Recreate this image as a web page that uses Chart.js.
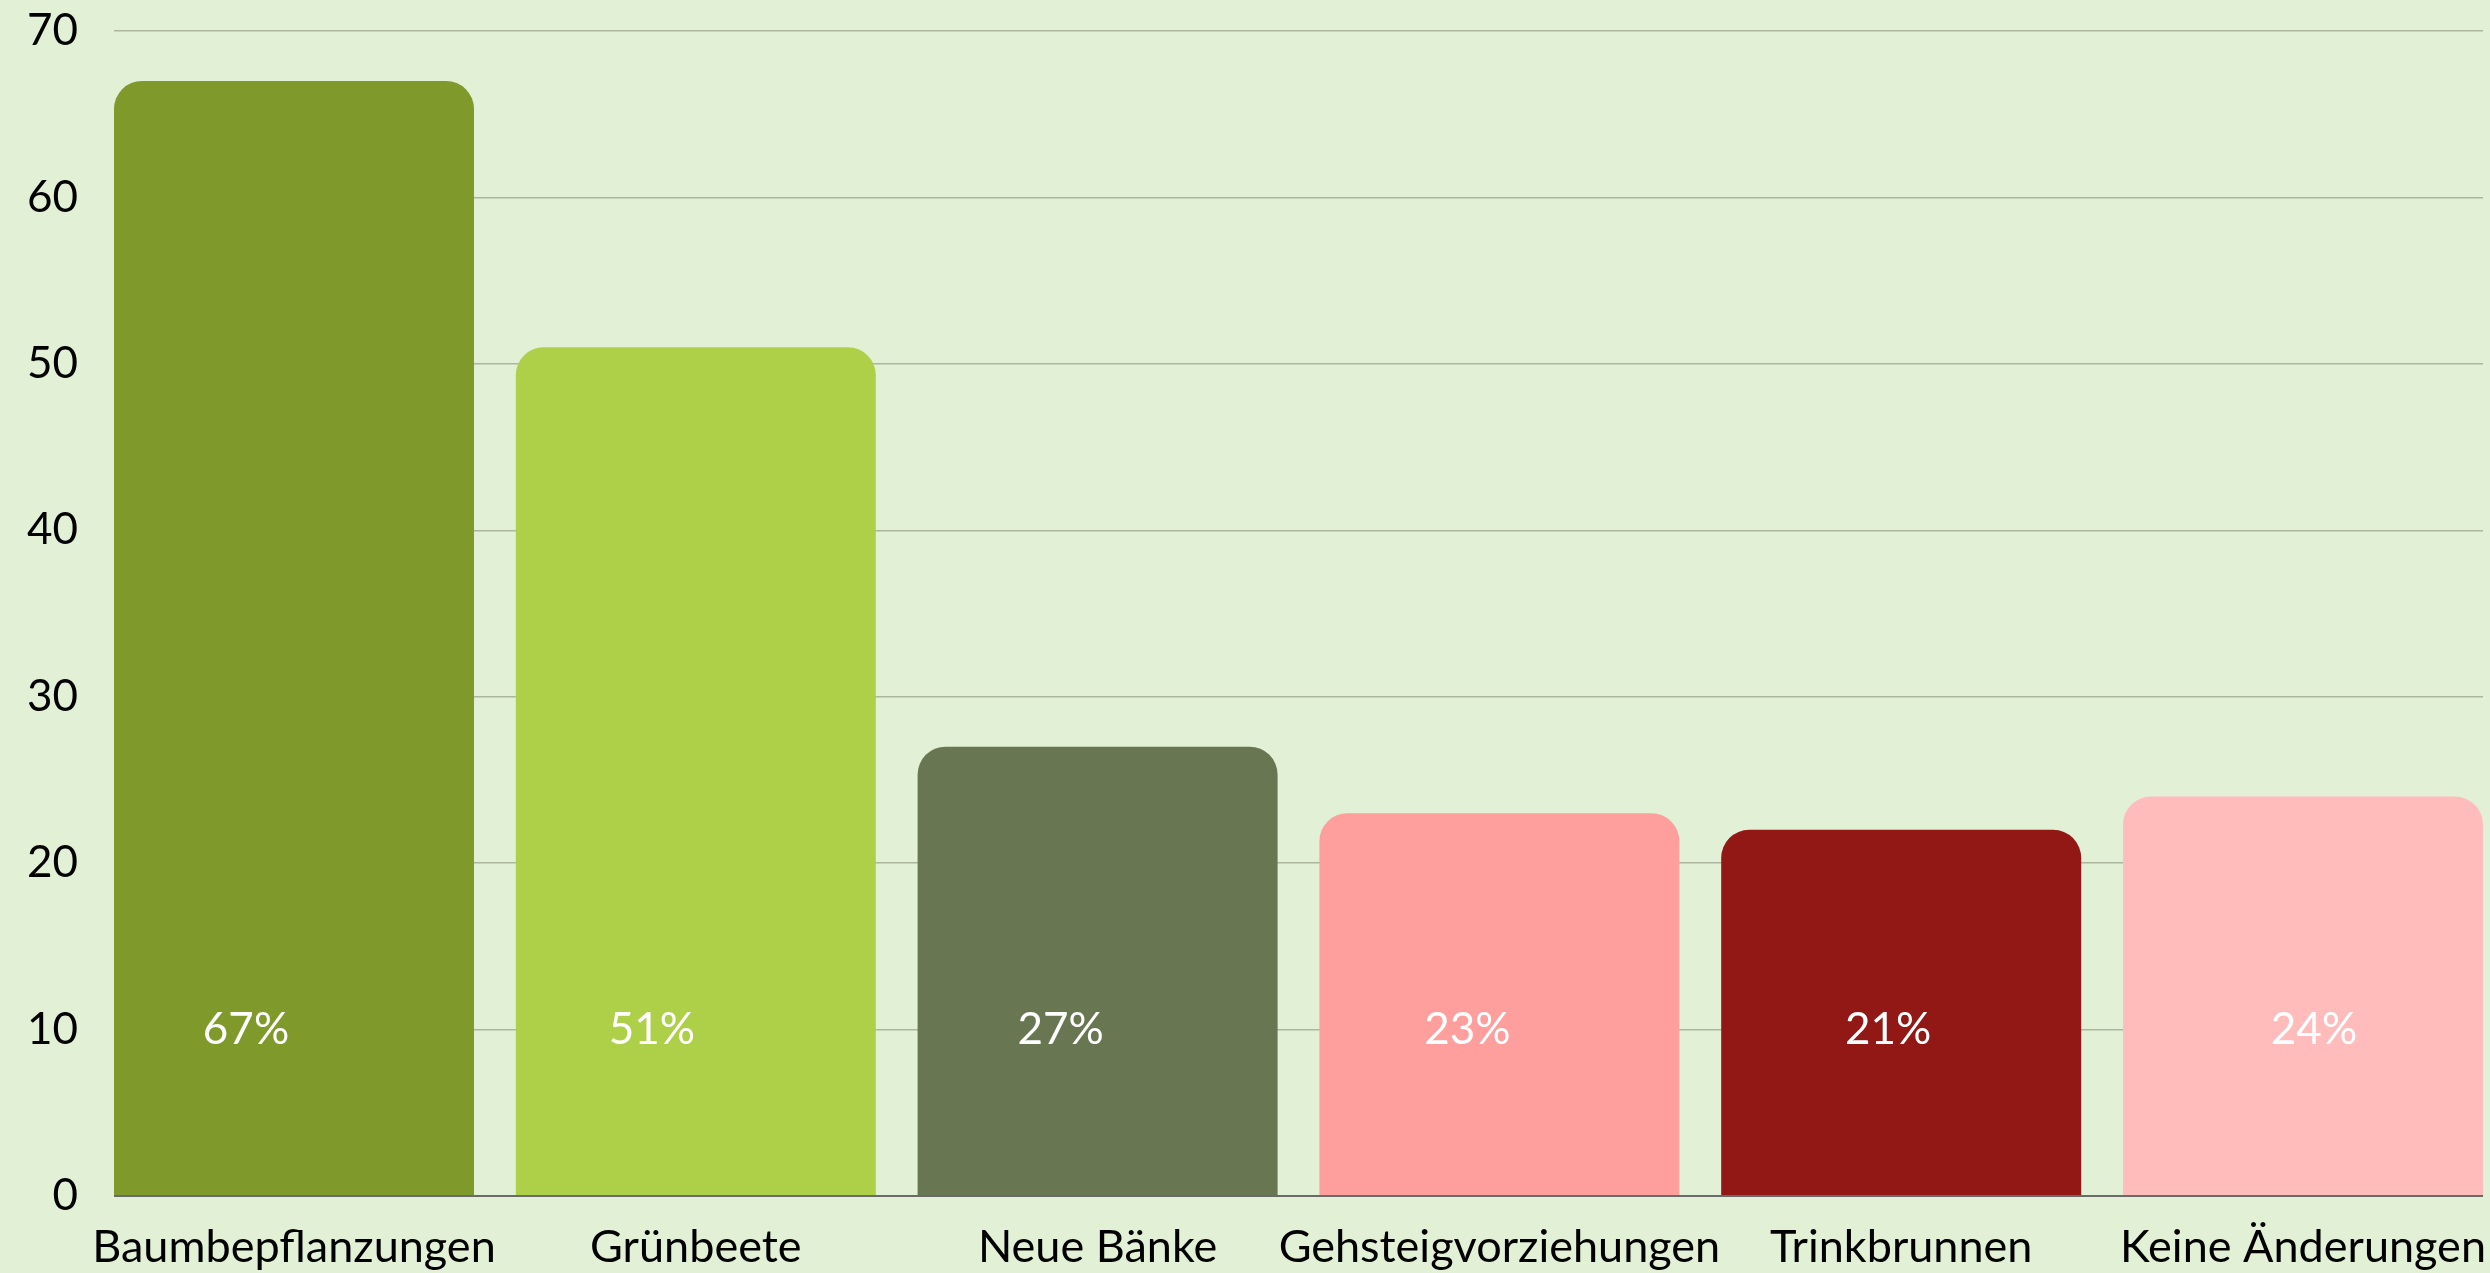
<!DOCTYPE html>
<html>
<head>
<meta charset="utf-8">
<script src="https://cdn.jsdelivr.net/npm/chart.js@4/dist/chart.umd.min.js"></script>
<style>
  html, body { margin: 0; padding: 0; background: #e2f0d6; }
  #wrap { width: 2490px; height: 1273px; }
</style>
</head>
<body>
<div id="wrap"><canvas id="c" width="2490" height="1273"></canvas></div>
<script>
const categories = ['Baumbepflanzungen', 'Grünbeete', 'Neue Bänke', 'Gehsteigvorziehungen', 'Trinkbrunnen', 'Keine Änderungen'];
const barValues = [67, 51, 27, 23, 22, 24];
const percentLabels = [67, 51, 27, 23, 21, 24];
const barColors = ['#7f9a2a', '#aed049', '#687752', '#ff9f9d', '#921816', '#ffbcbb'];
const yTicks = [0, 10, 20, 30, 40, 50, 60, 70];

const FONT = 'Lato, "Open Sans", sans-serif';

const bgPlugin = {
  id: 'bg',
  beforeDraw(chart) {
    const ctx = chart.ctx;
    ctx.save();
    ctx.fillStyle = '#e2f0d6';
    ctx.fillRect(0, 0, chart.width, chart.height);
    ctx.restore();
  }
};

const labelPlugin = {
  id: 'pctLabels',
  afterDatasetsDraw(chart, args, opts) {
    const ctx = chart.ctx;
    const meta = chart.getDatasetMeta(0);
    const y = chart.scales.y.getPixelForValue(opts.level);
    ctx.save();
    ctx.fillStyle = '#ffffff';
    ctx.font = opts.font;
    ctx.textAlign = 'center';
    ctx.textBaseline = 'middle';
    meta.data.forEach((el, i) => {
      ctx.fillText(percentLabels[i] + '%', el.x + opts.shift[i], y);
    });
    ctx.restore();
  }
};

new Chart(document.getElementById('c'), {
  type: 'bar',
  data: {
    datasets: [{
      data: barValues.map((v, i) => ({ x: i, y: v })),
      backgroundColor: barColors,
      borderWidth: 0,
      borderRadius: { topLeft: 28, topRight: 28, bottomLeft: 0, bottomRight: 0 },
      borderSkipped: false,
      barPercentage: 0.896,
      categoryPercentage: 1
    }]
  },
  options: {
    responsive: false,
    animation: false,
    events: [],
    layout: { padding: { top: 31, right: 7, bottom: 0, left: 0 } },
    plugins: {
      legend: { display: false },
      tooltip: { enabled: false },
      pctLabels: {
        level: 10,
        font: '44px ' + FONT,
        shift: [-48, -44, -37, -32, -13, 11]
      }
    },
    scales: {
      x: {
        type: 'linear',
        offset: false,
        bounds: 'data',
        min: -0.448,
        max: 5.448,
        grid: { display: false, drawTicks: false, offset: false },
        border: { display: false },
        afterBuildTicks(scale) { scale.ticks = categories.map((c, i) => ({ value: i })); },
        afterFit(scale) { scale.paddingLeft = 0; scale.paddingRight = 0; scale.height = 77; },
        ticks: {
          autoSkip: false,
          maxRotation: 0,
          minRotation: 0,
          padding: 24,
          color: '#000000',
          font: { family: FONT, size: 45 },
          callback: (v) => categories[Math.round(v)] || ''
        }
      },
      y: {
        min: 0,
        max: 70,
        afterFit(scale) { scale.width = 114; scale.paddingTop = 0; scale.paddingBottom = 0; },
        afterBuildTicks(scale) { scale.ticks = yTicks.map(v => ({ value: v })); },
        grid: {
          drawTicks: false,
          lineWidth: (c) => (c.tick && c.tick.value === 0) ? 2 : 1.5,
          color: (c) => (c.tick && c.tick.value === 0) ? '#6a6a6a' : '#abb69d'
        },
        border: { display: false },
        ticks: {
          padding: 36,
          color: '#000000',
          font: { family: FONT, size: 44 }
        }
      }
    }
  },
  plugins: [bgPlugin, labelPlugin]
});
</script>
</body>
</html>
